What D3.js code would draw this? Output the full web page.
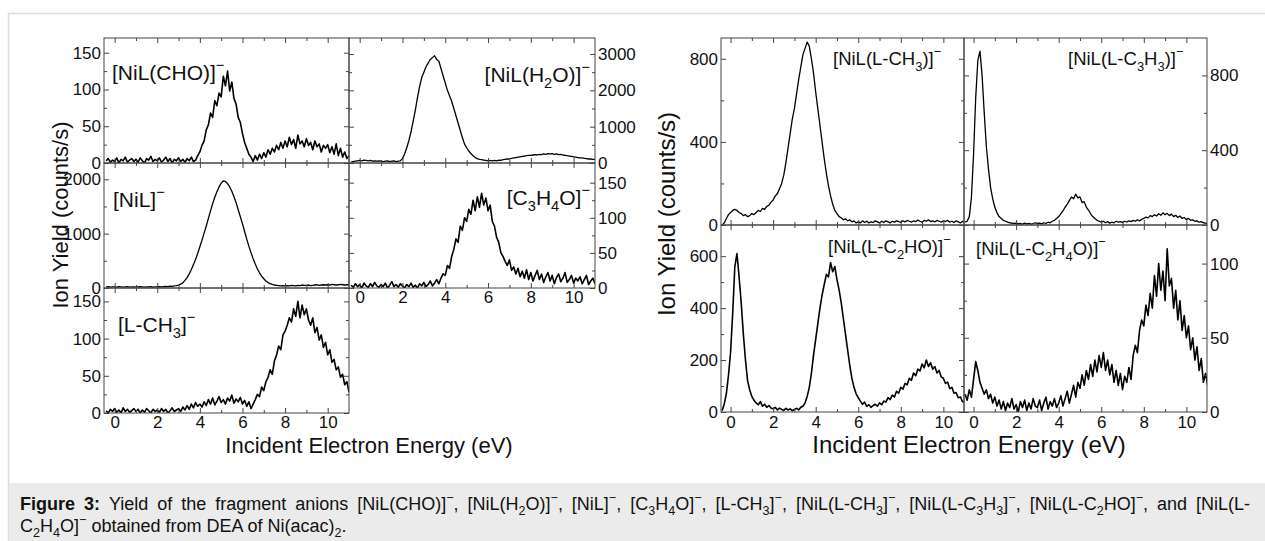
<!DOCTYPE html>
<meta charset="utf-8">
<style type="text/css">
body {
  margin: 0;
  background: #fff;
}

svg text {
  font-family: "Liberation Sans", Arial, sans-serif;
  fill: #111;
}

.frame {
  fill: none;
  stroke: #444;
  stroke-width: 1px;
}

.axis path {
  display: none;
}

.axis line {
  stroke: #444;
  stroke-width: 1px;
}

.axis text {
  font-family: "Liberation Sans", Arial, sans-serif;
  fill: #111;
}

.trace {
  fill: none;
  stroke: #000;
  stroke-linejoin: round;
}
</style>
<body>
</body>

<script src="https://d3js.org/d3.v7.min.js"></script>
<script>
// energy grid (eV) shared by every trace
var energy = [-0.4, -0.3, -0.2, -0.1,
  0.0, 0.1, 0.2, 0.3, 0.4, 0.5, 0.6, 0.7, 0.8, 0.9,
  1.0, 1.1, 1.2, 1.3, 1.4, 1.5, 1.6, 1.7, 1.8, 1.9,
  2.0, 2.1, 2.2, 2.3, 2.4, 2.5, 2.6, 2.7, 2.8, 2.9,
  3.0, 3.1, 3.2, 3.3, 3.4, 3.5, 3.6, 3.7, 3.8, 3.9,
  4.0, 4.1, 4.2, 4.3, 4.4, 4.5, 4.6, 4.7, 4.8, 4.9,
  5.0, 5.1, 5.2, 5.3, 5.4, 5.5, 5.6, 5.7, 5.8, 5.9,
  6.0, 6.1, 6.2, 6.3, 6.4, 6.5, 6.6, 6.7, 6.8, 6.9,
  7.0, 7.1, 7.2, 7.3, 7.4, 7.5, 7.6, 7.7, 7.8, 7.9,
  8.0, 8.1, 8.2, 8.3, 8.4, 8.5, 8.6, 8.7, 8.8, 8.9,
  9.0, 9.1, 9.2, 9.3, 9.4, 9.5, 9.6, 9.7, 9.8, 9.9,
  10.0, 10.1, 10.2, 10.3, 10.4, 10.5, 10.6, 10.7, 10.8, 10.9,
  11.0];

var nilCho = [3, 6, 1, 4,
  2, 7, 0, 5, 3, 8, 1, 4, 6, 2,
  5, 1, 7, 3, 0, 6, 4, 9, 2, 5,
  3, 7, 1, 4, 8, 2, 6, 0, 5, 3,
  7, 2, 5, 1, 6, 3, 8, 2, 4, 10,
  15, 24, 30, 45, 52, 68, 62, 85, 78, 95,
  90, 118, 105, 125, 98, 110, 88, 80, 62, 55,
  40, 28, 20, 12, 8, 2, 10, 4, 12, 6,
  14, 8, 18, 12, 20, 15, 24, 18, 28, 20,
  30, 22, 35, 25, 32, 20, 38, 26, 30, 22,
  33, 24, 28, 18, 30, 22, 26, 15, 24, 20,
  25, 14, 22, 12, 26, 10, 20, 8, 15, 6,
  10];

var nilH2o = [30, 40, 50, 60,
  70, 60, 80, 70, 60, 70, 50, 60, 50, 60,
  50, 40, 50, 60, 40, 50, 60, 40, 50, 60,
  120, 250, 420, 620, 860, 1150, 1450, 1800, 2100, 2350,
  2500, 2650, 2750, 2850, 2900, 2950, 2850, 2800, 2600, 2400,
  2200, 2000, 1850, 1700, 1500, 1300, 1100, 900, 700, 520,
  420, 330, 260, 200, 150, 120, 100, 90, 80, 70,
  60, 70, 60, 70, 60, 80, 70, 90, 100, 110,
  110, 130, 140, 150, 160, 170, 180, 190, 200, 210,
  210, 220, 230, 220, 240, 230, 250, 240, 260, 250,
  260, 240, 250, 230, 240, 220, 210, 200, 190, 180,
  170, 160, 150, 140, 140, 130, 120, 110, 110, 100,
  100];

var nil = [20, 25, 15, 20,
  20, 15, 25, 20, 15, 20, 25, 15, 20, 20,
  15, 20, 25, 20, 15, 20, 20, 25, 15, 20,
  20, 25, 20, 25, 30, 25, 35, 30, 40, 45,
  55, 70, 95, 140, 190, 260, 340, 430, 530, 640,
  760, 880, 1010, 1140, 1280, 1420, 1550, 1670, 1770, 1860,
  1930, 1970, 1960, 1920, 1860, 1780, 1680, 1570, 1440, 1310,
  1180, 1040, 900, 770, 650, 540, 440, 350, 280, 220,
  170, 130, 100, 80, 65, 55, 50, 45, 40, 45,
  40, 45, 40, 50, 45, 40, 50, 45, 55, 50,
  50, 55, 45, 50, 55, 60, 50, 55, 60, 55,
  60, 55, 65, 60, 55, 60, 65, 60, 55, 60,
  60];

var c3h4o = [4, 1, 6, 2,
  5, 0, 7, 3, 1, 6, 2, 8, 3, 1,
  5, 2, 7, 0, 4, 9, 2, 5, 1, 6,
  3, 0, 5, 2, 7, 1, 4, 0, 6, 3,
  8, 2, 5, 10, 3, 7, 12, 6, 14, 20,
  18, 32, 28, 45, 55, 70, 65, 88, 82, 100,
  95, 112, 105, 125, 110, 130, 115, 135, 118, 128,
  110, 118, 95, 88, 72, 65, 50, 45, 38, 32,
  40, 25, 30, 20, 28, 16, 24, 14, 26, 12,
  22, 10, 18, 25, 12, 20, 8, 16, 22, 10,
  18, 6, 15, 20, 9, 14, 22, 8, 12, 18,
  7, 14, 10, 16, 6, 12, 18, 5, 10, 14,
  6];

var lCh3 = [3, 0, 5, 2,
  6, 1, 4, 0, 7, 2, 5, 1, 3, 6,
  2, 5, 0, 4, 1, 6, 3, 0, 5, 2,
  4, 1, 6, 2, 5, 0, 3, 7, 2, 4,
  6, 2, 8, 4, 10, 5, 12, 7, 14, 9,
  12, 8, 15, 10, 18, 12, 20, 11, 16, 22,
  14, 18, 12, 20, 16, 24, 13, 19, 15, 21,
  12, 17, 9, 15, 6, 12, 18, 25, 22, 35,
  30, 42, 48, 58, 52, 70, 78, 90, 85, 105,
  110, 118, 128, 122, 140, 130, 150, 128, 145, 132,
  140, 125, 118, 128, 108, 115, 98, 105, 88, 95,
  78, 85, 68, 72, 58, 62, 48, 52, 38, 42,
  28];

var nilLCh3 = [0, 10, 30, 50,
  60, 70, 75, 70, 60, 55, 45, 50, 40, 45,
  55, 50, 60, 70, 65, 80, 75, 90, 95, 110,
  120, 140, 150, 175, 200, 240, 300, 370, 440, 510,
  560, 630, 700, 760, 820, 850, 880, 860, 800, 730,
  640, 560, 480, 400, 320, 250, 190, 140, 100, 70,
  55, 40, 35, 25, 30, 20, 25, 15, 20, 10,
  15, 10, 20, 12, 18, 10, 15, 12, 20, 15,
  10, 18, 12, 20, 15, 10, 18, 14, 20, 16,
  12, 20, 15, 22, 18, 14, 20, 16, 24, 18,
  14, 22, 18, 25, 16, 20, 15, 22, 18, 14,
  20, 16, 22, 14, 18, 12, 20, 15, 10, 18,
  12];

var nilLC3h3 = [15, 20, 45, 150,
  380, 680, 880, 930, 800, 600, 420, 300, 200, 140,
  95, 65, 45, 35, 25, 20, 15, 12, 10, 8,
  10, 6, 8, 5, 10, 6, 9, 5, 8, 12,
  7, 10, 6, 12, 8, 15, 12, 20, 25, 35,
  45, 60, 75, 95, 110, 130, 150, 140, 165, 145,
  150, 120, 125, 95, 80, 60, 45, 35, 25, 20,
  15, 20, 12, 18, 10, 15, 12, 20, 15, 18,
  14, 20, 16, 22, 18, 25, 20, 28, 22, 30,
  35, 42, 38, 50, 45, 55, 48, 60, 52, 65,
  55, 62, 50, 58, 45, 52, 40, 48, 35, 40,
  30, 35, 25, 28, 20, 22, 15, 18, 12, 10,
  8];

var nilLC2ho = [5, 30, 70, 140,
  230, 380, 560, 610, 520, 420, 300, 200, 120, 85,
  60, 45, 35, 28, 40, 22, 30, 18, 25, 15,
  12, 18, 8, 15, 10, 6, 14, 8, 12, 5,
  10, 14, 8, 18, 22, 35, 60, 95, 150, 220,
  280, 340, 400, 450, 490, 530, 520, 575, 540, 560,
  510, 470, 420, 360, 300, 240, 180, 130, 95, 70,
  55, 42, 30, 38, 22, 28, 18, 25, 30, 22,
  35, 28, 42, 38, 55, 48, 65, 58, 80, 72,
  95, 88, 110, 105, 130, 122, 150, 140, 165, 158,
  185, 170, 200, 175, 190, 165, 175, 150, 160, 135,
  130, 110, 115, 90, 95, 72, 75, 55, 58, 40,
  38];

var nilLC2h4o = [12, 8, 15, 10,
  22, 34, 28, 20, 16, 12, 15, 9, 12, 6,
  10, 4, 8, 2, 7, 1, 6, 3, 9, 2,
  5, 0, 7, 3, 8, 1, 6, 2, 9, 4,
  3, 8, 1, 6, 10, 2, 7, 4, 9, 3,
  6, 11, 4, 9, 14, 6, 12, 18, 10, 20,
  16, 25, 18, 28, 22, 32, 24, 35, 27, 38,
  30, 40, 28, 35, 25, 32, 20, 28, 18, 26,
  15, 24, 20, 30, 22, 38, 45, 40, 55, 62,
  58, 72, 65, 80, 70, 92, 78, 100, 82, 95,
  75, 110, 85, 90, 70, 82, 62, 75, 55, 65,
  50, 58, 42, 50, 35, 44, 28, 36, 20, 26,
  18];

var xTicks = [0, 2, 4, 6, 8, 10];
var xMinor = [1, 3, 5, 7, 9];

var captionLine1 = "Yield of the fragment anions [NiL(CHO)]^−, [NiL(H_2O)]^−, [NiL]^−, [C_3H_4O]^−, [L-CH_3]^−, [NiL(L-CH_3]^−, [NiL(L-C_3H_3]^−, [NiL(L-C_2HO]^−, and [NiL(L-";
var captionLine2 = "C_2H_4O]^− obtained from DEA of Ni(acac)_2.";

var width = 1265, height = 541;

var svg = d3.select("body")
  .append("svg")
    .attr("width", width)
    .attr("height", height);

// page frame and caption band
svg.append("rect")
  .attr("x", 8.5).attr("y", 13.5)
  .attr("width", width).attr("height", height)
  .style("fill", "none")
  .style("stroke", "#dcdcdc")
  .style("stroke-width", 1.5);

svg.append("rect")
  .attr("x", 9).attr("y", 483)
  .attr("width", width - 9).attr("height", height - 483)
  .style("fill", "#ebebeb");

// text with _x subscripts and ^x superscripts
function addRich(text, str, fs, supShift) {
  var cur = 0;
  var re = /([_^])(.)|([^_^]+)/g, m;
  while ((m = re.exec(str))) {
    var t = text.append("tspan");
    var target = 0, small = false, s = m[3];
    if (!m[3]) {
      target = m[1] == "_" ? 0.3 * fs : -supShift * fs;
      small = true;
      s = m[2];
    }
    if (target != cur) t.attr("dy", target - cur);
    cur = target;
    if (small) t.style("font-size", (0.7 * fs) + "px");
    t.text(s);
  }
}

var clipId = 0;

function panel(p) {
  var x = d3.scaleLinear().domain(p.xDom).range([p.x0, p.x1]);
  var y = d3.scaleLinear().domain(p.yDom).range([p.y1, p.y0]);
  var g = svg.append("g");

  clipId++;
  svg.append("clipPath").attr("id", "clip" + clipId)
    .append("rect")
      .attr("x", p.x0).attr("y", p.y0 - 2)
      .attr("width", p.x1 - p.x0).attr("height", p.y1 - p.y0 + 2);

  var line = d3.line()
    .x(function(d, i) { return x(energy[i]); })
    .y(function(d) { return y(d); });

  g.append("path")
    .datum(p.values)
    .attr("class", "trace")
    .attr("clip-path", "url(#clip" + clipId + ")")
    .style("stroke-width", p.noisy ? 1.6 : 1.3)
    .attr("d", line);

  g.append("rect")
    .attr("class", "frame")
    .attr("x", p.x0).attr("y", p.y0)
    .attr("width", p.x1 - p.x0).attr("height", p.y1 - p.y0);

  var fmt = d3.format("d");

  // x ticks, top and bottom, all pointing inward
  g.append("g").attr("class", "axis")
    .attr("transform", "translate(0," + p.y1 + ")")
    .call(d3.axisBottom(x).tickValues(xTicks).tickSize(-5).tickPadding(p.xPad)
      .tickFormat(p.xLabels ? fmt : ""));
  g.append("g").attr("class", "axis")
    .attr("transform", "translate(0," + p.y1 + ")")
    .call(d3.axisBottom(x).tickValues(xMinor).tickSize(-3).tickFormat(""));
  g.append("g").attr("class", "axis")
    .attr("transform", "translate(0," + p.y0 + ")")
    .call(d3.axisTop(x).tickValues(xTicks).tickSize(-5).tickFormat(""));
  g.append("g").attr("class", "axis")
    .attr("transform", "translate(0," + p.y0 + ")")
    .call(d3.axisTop(x).tickValues(xMinor).tickSize(-3).tickFormat(""));

  // y ticks, labelled side and mirrored side
  var onLeft = p.side == "left";
  var xl = onLeft ? p.x0 : p.x1;
  var xm = onLeft ? p.x1 : p.x0;

  g.append("g").attr("class", "axis")
    .attr("transform", "translate(" + xl + ",0)")
    .call((onLeft ? d3.axisLeft(y) : d3.axisRight(y))
      .tickValues(p.yTicks).tickSize(-5).tickPadding(3).tickFormat(fmt));
  g.append("g").attr("class", "axis")
    .attr("transform", "translate(" + xl + ",0)")
    .call((onLeft ? d3.axisLeft(y) : d3.axisRight(y))
      .tickValues(p.yMinor).tickSize(-3).tickFormat(""));
  g.append("g").attr("class", "axis")
    .attr("transform", "translate(" + xm + ",0)")
    .call((onLeft ? d3.axisRight(y) : d3.axisLeft(y))
      .tickValues(p.yTicks).tickSize(-5).tickFormat(""));
  g.append("g").attr("class", "axis")
    .attr("transform", "translate(" + xm + ",0)")
    .call((onLeft ? d3.axisRight(y) : d3.axisLeft(y))
      .tickValues(p.yMinor).tickSize(-3).tickFormat(""));

  g.selectAll(".axis text").style("font-size", p.tickFs + "px");

  // species label
  var t = g.append("text")
    .attr("x", p.lx).attr("y", p.ly)
    .attr("text-anchor", p.anchor || "start")
    .style("font-size", p.labelFs + "px");
  addRich(t, p.label, p.labelFs, 0.5);
}

// left figure
var L = { xDom: [-0.5, 11], tickFs: 17, labelFs: 21, xPad: 3 };
var lc = [104, 349, 595], lr = [38, 163, 288, 413];

panel(Object.assign({}, L, { x0: lc[0], x1: lc[1], y0: lr[0], y1: lr[1],
  values: nilCho, noisy: true, yDom: [0, 170], yTicks: [0, 50, 100, 150], yMinor: [25, 75, 125],
  side: "left", xLabels: false, label: "[NiL(CHO)]^−", lx: 112, ly: 80 }));
panel(Object.assign({}, L, { x0: lc[1], x1: lc[2], y0: lr[0], y1: lr[1],
  values: nilH2o, yDom: [0, 3440], yTicks: [0, 1000, 2000, 3000], yMinor: [500, 1500, 2500],
  side: "right", xLabels: false, label: "[NiL(H_2O)]^−", lx: 590, ly: 82, anchor: "end" }));
panel(Object.assign({}, L, { x0: lc[0], x1: lc[1], y0: lr[1], y1: lr[2],
  values: nil, yDom: [0, 2300], yTicks: [0, 1000, 2000], yMinor: [500, 1500],
  side: "left", xLabels: false, label: "[NiL]^−", lx: 113, ly: 207 }));
panel(Object.assign({}, L, { x0: lc[1], x1: lc[2], y0: lr[1], y1: lr[2],
  values: c3h4o, noisy: true, yDom: [0, 178], yTicks: [0, 50, 100, 150], yMinor: [25, 75, 125],
  side: "right", xLabels: true, label: "[C_3H_4O]^−", lx: 590, ly: 205, anchor: "end" }));
panel(Object.assign({}, L, { x0: lc[0], x1: lc[1], y0: lr[2], y1: lr[3],
  values: lCh3, noisy: true, yDom: [0, 168], yTicks: [0, 50, 100, 150], yMinor: [25, 75, 125],
  side: "left", xLabels: true, label: "[L-CH_3]^−", lx: 118, ly: 332 }));

svg.append("text")
  .attr("transform", "translate(68,215) rotate(-90)")
  .attr("text-anchor", "middle")
  .style("font-size", "22px")
  .text("Ion Yield (counts/s)");
svg.append("text")
  .attr("x", 369).attr("y", 453)
  .attr("text-anchor", "middle")
  .style("font-size", "22px")
  .text("Incident Electron Energy (eV)");

// right figure
var R = { xDom: [-0.45, 10.97], tickFs: 17, labelFs: 18.5, xPad: 4 };
var rc = [721, 964, 1207], rr = [38, 225, 412];

panel(Object.assign({}, R, { x0: rc[0], x1: rc[1], y0: rr[0], y1: rr[1],
  values: nilLCh3, yDom: [0, 900], yTicks: [0, 400, 800], yMinor: [200, 600],
  side: "left", xLabels: false, label: "[NiL(L-CH_3)]^−", lx: 833, ly: 65 }));
panel(Object.assign({}, R, { x0: rc[1], x1: rc[2], y0: rr[0], y1: rr[1],
  values: nilLC3h3, yDom: [0, 1000], yTicks: [0, 400, 800], yMinor: [200, 600],
  side: "right", xLabels: false, label: "[NiL(L-C_3H_3)]^−", lx: 1068, ly: 65 }));
panel(Object.assign({}, R, { x0: rc[0], x1: rc[1], y0: rr[1], y1: rr[2],
  values: nilLC2ho, noisy: true, yDom: [0, 720], yTicks: [0, 200, 400, 600], yMinor: [100, 300, 500],
  side: "left", xLabels: true, label: "[NiL(L-C_2HO)]^−", lx: 828, ly: 253 }));
panel(Object.assign({}, R, { x0: rc[1], x1: rc[2], y0: rr[1], y1: rr[2],
  values: nilLC2h4o, noisy: true, yDom: [0, 126], yTicks: [0, 50, 100], yMinor: [25, 75],
  side: "right", xLabels: true, label: "[NiL(L-C_2H_4O)]^−", lx: 976, ly: 255 }));

svg.append("text")
  .attr("transform", "translate(675,214) rotate(-90)")
  .attr("text-anchor", "middle")
  .style("font-size", "24px")
  .text("Ion Yield (counts/s)");
svg.append("text")
  .attr("x", 969).attr("y", 453)
  .attr("text-anchor", "middle")
  .style("font-size", "24px")
  .text("Incident Electron Energy (eV)");

// caption, first line justified like the page it came from
var capFs = 18;
var c1 = svg.append("text").attr("x", 20).attr("y", 510).style("font-size", capFs + "px");
c1.append("tspan").style("font-weight", "bold").text("Figure 3: ");
addRich(c1, captionLine1, capFs, 0.45);
var natural = c1.node().getComputedTextLength();
var spaces = ("Figure 3: " + captionLine1).split(" ").length - 1;
c1.style("word-spacing", Math.max(0, (1230 - natural) / spaces) + "px");

var c2 = svg.append("text").attr("x", 20).attr("y", 532).style("font-size", capFs + "px");
addRich(c2, captionLine2, capFs, 0.45);
</script>
